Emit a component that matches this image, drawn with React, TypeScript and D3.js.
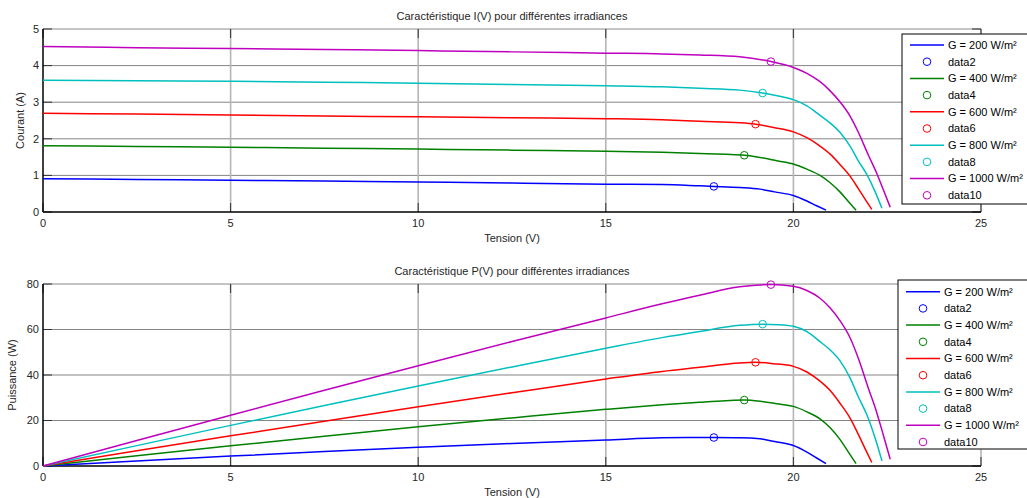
import React from "react";
import * as d3 from "d3";

// ---------- data ----------
const seriesLabels = ["G = 200 W/m²", "G = 400 W/m²", "G = 600 W/m²", "G = 800 W/m²", "G = 1000 W/m²"];
const markerLabels = ["data2", "data4", "data6", "data8", "data10"];
const seriesColors = ["#0000ff", "#008000", "#ff0000", "#00bfbf", "#bf00bf"];

const xTicks = [0, 5, 10, 15, 20, 25];
const iTicks = [0, 1, 2, 3, 4, 5];
const pTicks = [0, 20, 40, 60, 80];

// G = 200
const v200 = [0, 2.5, 5, 7.5, 10, 12.5, 15, 16.5, 17.5, 17.88, 18.57, 19.11, 19.5, 20.0, 20.36, 20.62, 20.87];
const i200 = [0.91, 0.89, 0.87, 0.845, 0.82, 0.79, 0.76, 0.75, 0.715, 0.70, 0.67, 0.625, 0.55, 0.45, 0.30, 0.17, 0.05];
const p200 = [0, 2.23, 4.35, 6.34, 8.2, 9.88, 11.4, 12.38, 12.51, 12.52, 12.44, 11.94, 10.73, 9.0, 6.11, 3.51, 1.04];
// G = 400
const v400 = [0, 2.5, 5, 7.5, 10, 12.5, 15, 16.5, 17.5, 18.2, 18.69, 19.11, 19.56, 20.0, 20.36, 20.71, 20.98, 21.24, 21.47, 21.67];
const i400 = [1.81, 1.79, 1.77, 1.745, 1.72, 1.69, 1.66, 1.63, 1.60, 1.575, 1.55, 1.49, 1.40, 1.31, 1.17, 1.00, 0.80, 0.55, 0.28, 0.05];
const p400 = [0, 4.48, 8.85, 13.09, 17.2, 21.13, 24.9, 26.9, 28.0, 28.67, 28.97, 28.47, 27.38, 26.2, 23.82, 20.71, 16.78, 11.68, 6.01, 1.08];
// G = 600
const v600 = [0, 2.5, 5, 7.5, 10, 12.5, 15, 16.5, 17.5, 18.57, 18.99, 19.47, 20.0, 20.36, 20.71, 20.98, 21.24, 21.51, 21.73, 21.91, 22.09];
const i600 = [2.70, 2.675, 2.65, 2.625, 2.60, 2.575, 2.55, 2.52, 2.48, 2.44, 2.40, 2.31, 2.19, 2.03, 1.80, 1.58, 1.30, 0.98, 0.64, 0.35, 0.07];
const p600 = [0, 6.69, 13.25, 19.69, 26.0, 32.19, 38.25, 41.58, 43.4, 45.31, 45.58, 44.98, 43.8, 41.33, 37.28, 33.15, 27.61, 21.08, 13.91, 7.67, 1.55];
// G = 800
const v800 = [0, 2.5, 5, 7.5, 10, 12.5, 15, 16.5, 17.5, 18.57, 19.18, 19.6, 20.0, 20.36, 20.71, 20.98, 21.24, 21.51, 21.73, 21.96, 22.18, 22.36];
const i800 = [3.60, 3.585, 3.57, 3.545, 3.52, 3.485, 3.45, 3.42, 3.38, 3.33, 3.25, 3.17, 3.07, 2.90, 2.64, 2.43, 2.18, 1.80, 1.40, 1.02, 0.55, 0.10];
const p800 = [0, 8.96, 17.85, 26.59, 35.2, 43.56, 51.75, 56.43, 59.15, 61.84, 62.34, 62.13, 61.4, 59.04, 54.67, 50.98, 46.3, 38.72, 30.42, 22.4, 12.2, 2.24];
// G = 1000
const v1000 = [0, 2.5, 5, 7.5, 10, 12.5, 15, 16.5, 17.5, 18.57, 19.4, 20.0, 20.36, 20.71, 20.98, 21.24, 21.51, 21.73, 22.0, 22.22, 22.40, 22.58];
const i1000 = [4.52, 4.49, 4.465, 4.44, 4.41, 4.375, 4.34, 4.32, 4.29, 4.24, 4.11, 3.95, 3.79, 3.56, 3.31, 3.01, 2.62, 2.18, 1.55, 1.06, 0.60, 0.13];
const p1000 = [0, 11.23, 22.33, 33.3, 44.1, 54.69, 65.1, 71.28, 75.08, 78.74, 79.73, 79.0, 77.16, 73.73, 69.44, 63.93, 56.36, 47.37, 34.1, 23.55, 13.44, 2.94];

// maximum power points
const mppV = [17.88, 18.69, 18.99, 19.18, 19.40];
const mppI = [0.70, 1.55, 2.40, 3.25, 4.11];
const mppP = [12.52, 28.97, 45.58, 62.34, 79.73];

const voltages = [v200, v400, v600, v800, v1000];
const currents = [i200, i400, i600, i800, i1000];
const powers = [p200, p400, p600, p800, p1000];

// ---------- drawing ----------
const W = 1027;
const H = 498;
const FONT = "'Liberation Sans', Arial, sans-serif";
const TXT = "#262626";

type PanelProps = {
  top: number;
  bottom: number;
  yMax: number;
  yTicks: number[];
  ys: number[][];
  mppY: number[];
  title: string;
  yLabel: string;
  yLabelX: number;
  legend: { x: number; top: number; bottom: number; lineX0: number; lineX1: number; textX: number; firstRow: number };
};

function Panel(props: PanelProps) {
  const { top, bottom, yMax, yTicks, ys, mppY, title, yLabel, yLabelX, legend } = props;
  const left = 43;
  const right = 981;
  const x = d3.scaleLinear().domain([0, 25]).range([left, right]);
  const y = d3.scaleLinear().domain([0, yMax]).range([bottom, top]);
  const tickLen = 9;

  const paths = ys.map((vals, k) => {
    const pts: [number, number][] = voltages[k].map((v, j) => [v, vals[j]]);
    return d3
      .line<[number, number]>()
      .curve(d3.curveMonotoneX)
      .x((d) => x(d[0]))
      .y((d) => y(d[1]))(pts) as string;
  });

  const rowH = 16.7;
  return (
    <g>
      {/* horizontal grid */}
      {yTicks
        .filter((t) => t !== 0 && t !== yMax)
        .map((t) => (
          <line key={"hg" + t} x1={left} x2={right} y1={y(t)} y2={y(t)} stroke="#858585" strokeWidth={1} />
        ))}
      {/* vertical grid */}
      {xTicks
        .filter((t) => t !== 0 && t !== 25)
        .map((t) => (
          <line key={"vg" + t} x1={x(t)} x2={x(t)} y1={top} y2={bottom} stroke="#b5b5b5" strokeWidth={1.6} />
        ))}
      {/* box */}
      <line x1={left} x2={right} y1={top} y2={top} stroke="#8a8a8a" strokeWidth={1} />
      <line x1={right} x2={right} y1={top} y2={bottom} stroke="#8a8a8a" strokeWidth={1} />
      {/* ticks */}
      {xTicks.map((t) => (
        <g key={"xt" + t}>
          <line x1={x(t)} x2={x(t)} y1={bottom} y2={bottom - tickLen} stroke="#333" strokeWidth={1} />
          <line x1={x(t)} x2={x(t)} y1={top} y2={top + tickLen} stroke="#333" strokeWidth={1} />
        </g>
      ))}
      {yTicks.map((t) => (
        <g key={"yt" + t}>
          <line x1={left} x2={left + tickLen} y1={y(t)} y2={y(t)} stroke="#333" strokeWidth={1} />
          <line x1={right} x2={right - tickLen} y1={y(t)} y2={y(t)} stroke="#333" strokeWidth={1} />
        </g>
      ))}
      <line x1={left} x2={left} y1={top} y2={bottom} stroke="#000" strokeWidth={1.5} />
      <line x1={left} x2={right} y1={bottom} y2={bottom} stroke="#000" strokeWidth={1.5} />

      {/* curves */}
      {paths.map((d, k) => (
        <path key={"c" + k} d={d} fill="none" stroke={seriesColors[k]} strokeWidth={1.5} strokeLinejoin="round" />
      ))}
      {/* MPP markers */}
      {mppV.map((v, k) => (
        <circle key={"m" + k} cx={x(v)} cy={y(mppY[k])} r={3.8} fill="none" stroke={seriesColors[k]} strokeWidth={1} />
      ))}

      {/* tick labels */}
      {xTicks.map((t) => (
        <text key={"xl" + t} x={x(t)} y={bottom + 15} textAnchor="middle" fontSize={11} fontFamily={FONT} fill={TXT}>
          {t}
        </text>
      ))}
      {yTicks.map((t) => (
        <text key={"yl" + t} x={left - 4} y={y(t)} dy="0.35em" textAnchor="end" fontSize={11} fontFamily={FONT} fill={TXT}>
          {t}
        </text>
      ))}
      <text x={(left + right) / 2} y={bottom + 30} textAnchor="middle" fontSize={11} fontFamily={FONT} fill={TXT}>
        Tension (V)
      </text>
      <text
        transform={`translate(${yLabelX},${(top + bottom) / 2}) rotate(-90)`}
        textAnchor="middle"
        fontSize={11}
        fontFamily={FONT}
        fill={TXT}
      >
        {yLabel}
      </text>
      <text x={(left + right) / 2} y={top - 9} textAnchor="middle" fontSize={11} fontFamily={FONT} fill={TXT}>
        {title}
      </text>

      {/* legend */}
      <rect x={legend.x} y={legend.top} width={W - legend.x + 20} height={legend.bottom - legend.top} fill="#fff" stroke="#000" strokeWidth={1} />
      {seriesLabels.map((lab, k) => {
        const r1 = legend.firstRow + 2 * k * rowH;
        const r2 = r1 + rowH;
        return (
          <g key={"lg" + k}>
            <line x1={legend.lineX0} x2={legend.lineX1} y1={r1} y2={r1} stroke={seriesColors[k]} strokeWidth={1.5} />
            <text x={legend.textX} y={r1} dy="0.35em" fontSize={11} fontFamily={FONT} fill="#000">
              {lab}
            </text>
            <circle cx={(legend.lineX0 + legend.lineX1) / 2} cy={r2} r={3.8} fill="none" stroke={seriesColors[k]} strokeWidth={1} />
            <text x={legend.textX} y={r2} dy="0.35em" fontSize={11} fontFamily={FONT} fill="#000">
              {markerLabels[k]}
            </text>
          </g>
        );
      })}
    </g>
  );
}

export default function App() {
  return (
    <div style={{ position: "absolute", left: 0, top: 0, width: W, height: H, background: "#fff" }}>
      <svg width={W} height={H} style={{ display: "block" }}>
        <rect x={0} y={0} width={W} height={H} fill="#fff" />
        <Panel
          top={29}
          bottom={212}
          yMax={5}
          yTicks={iTicks}
          ys={currents}
          mppY={mppI}
          title="Caractéristique I(V) pour différentes irradiances"
          yLabel="Courant (A)"
          yLabelX={24}
          legend={{ x: 902, top: 34, bottom: 204, lineX0: 910, lineX1: 944, textX: 948, firstRow: 45 }}
        />
        <Panel
          top={284}
          bottom={466}
          yMax={80}
          yTicks={pTicks}
          ys={powers}
          mppY={mppP}
          title="Caractéristique P(V) pour différentes irradiances"
          yLabel="Puissance (W)"
          yLabelX={16}
          legend={{ x: 898, top: 280, bottom: 449, lineX0: 906, lineX1: 940, textX: 944, firstRow: 291.7 }}
        />
      </svg>
    </div>
  );
}
